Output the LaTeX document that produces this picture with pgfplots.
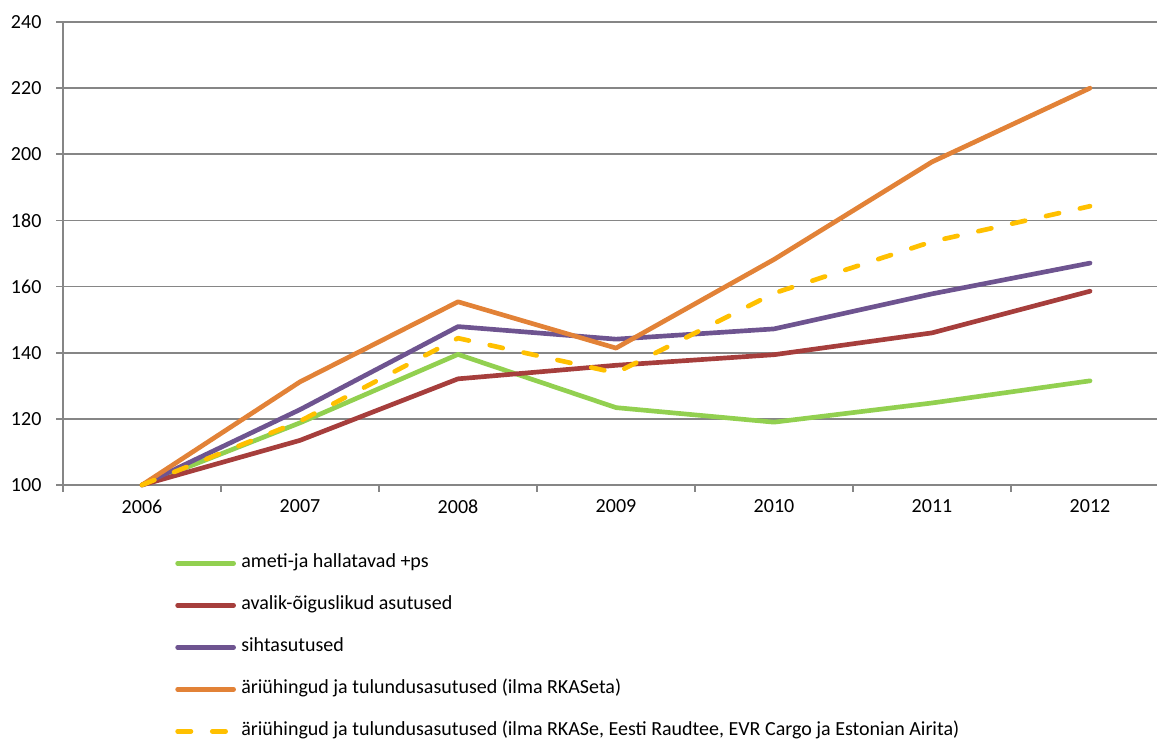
\documentclass[border=0pt]{standalone}
\usepackage{pgfplots}
\pgfplotsset{compat=1.18}
\usepackage{fontspec}
\setmainfont{Carlito}
\usetikzlibrary{calc}
\definecolor{axgray}{RGB}{134,134,134}
\definecolor{cgreen}{RGB}{146,208,80}
\definecolor{cred}{RGB}{166,62,60}
\definecolor{cpurple}{RGB}{110,84,144}
\definecolor{corange}{RGB}{226,130,55}
\definecolor{cyellow}{RGB}{255,192,0}
\begin{document}
\fontsize{15pt}{18pt}\selectfont
\begin{tikzpicture}
\begin{axis}[
  scale only axis, width=820.5pt, height=347.25pt,
  xmin=-0.5, xmax=6.424, ymin=100, ymax=240,
  clip=false,
  axis lines=left, axis line style={draw=axgray, line width=1.3pt, -},
  ytick={100,120,...,240}, ymajorgrids,
  grid style={draw=axgray, line width=1.3pt},
  tick align=outside, major tick length=4.5pt,
  tick style={draw=axgray, line width=1.3pt},
  xtick={-0.5,0.5,...,5.5}, xticklabels={},
  extra x ticks={0,1,2,3,4,5,6},
  extra x tick labels={2006,2007,2008,2009,2010,2011,2012},
  extra x tick style={major tick length=0pt, grid=none},
  major tick length=5pt,
  ticklabel style={font=\fontsize{15pt}{18pt}\selectfont},
  xticklabel style={yshift=-6pt},
  yticklabel style={xshift=-6pt},
  /pgf/number format/assume math mode=true,
  legend style={at={(0.1024,-0.1425)}, anchor=north west, draw=none, fill=none,
    inner sep=0pt, row sep=13.5pt, font=\fontsize{15pt}{18pt}\selectfont,
    nodes={text height=10.5pt, text depth=3.5pt, inner ysep=2pt, inner xsep=4pt}},
  legend cell align=left,
  legend image code/.code={\draw[#1] (0pt,0pt) -- (42pt,0pt);},
  every axis plot/.append style={line width=3.5pt, line cap=round, line join=round},
]
\addplot[cgreen] coordinates {(0,100) (1,118.8) (2,139.5) (3,123.4) (4,119) (5,124.8) (6,131.5)};
\addplot[cred] coordinates {(0,100) (1,113.5) (2,132.1) (3,136.2) (4,139.4) (5,146) (6,158.6)};
\addplot[cpurple] coordinates {(0,100) (1,122.8) (2,147.9) (3,144.1) (4,147.2) (5,157.8) (6,167.1)};
\addplot[corange] coordinates {(0,100) (1,131.2) (2,155.4) (3,141.4) (4,168.2) (5,197.7) (6,220)};
\addplot[cyellow, dash pattern=on 10pt off 16pt] coordinates {(0,100) (1,119.3) (2,144.4) (3,133.9) (4,158) (5,173.6) (6,184.3)};
\legend{ameti-ja hallatavad +ps, avalik-õiguslikud asutused, sihtasutused,
  äriühingud ja tulundusasutused (ilma RKASeta),
  äriühingud ja tulundusasutused (ilma RKASe{,} Eesti Raudtee{,} EVR Cargo ja Estonian Airita)}
\end{axis}
\pgfresetboundingbox
\path[use as bounding box] ($(current axis.south west)+(-47.25pt,-191.25pt)$) rectangle ($(current axis.north east)+(0pt,16.5pt)$);
\end{tikzpicture}
\end{document}
